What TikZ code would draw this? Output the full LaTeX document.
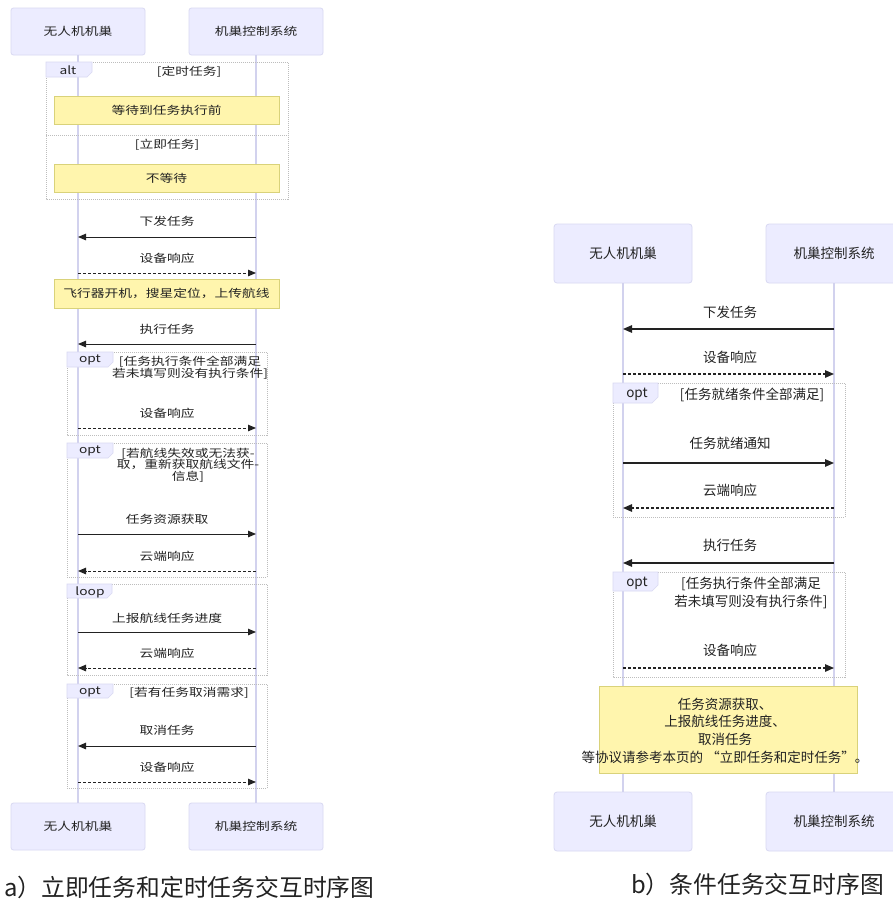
\documentclass[tikz,border=0pt]{standalone}
\usepackage{fontspec}
\setmainfont{Noto Sans CJK SC}
\newfontfamily\wideCJK{Noto Sans CJK SC}[FakeStretch=1.25]
\usetikzlibrary{arrows.meta}
\definecolor{actfill}{HTML}{ECECFF}
\definecolor{actline}{HTML}{D9D9F2}
\definecolor{lifecol}{HTML}{D2D2EE}
\definecolor{notefill}{HTML}{FFF5AD}
\definecolor{noteline}{HTML}{D9D27A}
\definecolor{framecol}{HTML}{BDBDBD}
\definecolor{txtcol}{HTML}{222222}
\tikzset{
  actorL/.style={draw=actline, fill=actfill, rounded corners=2.5pt, line width=0.8pt,
     minimum width=134pt, minimum height=47pt, inner sep=0pt, text=txtcol,
     font=\wideCJK\fontsize{11}{13}\selectfont},
  actorR/.style={draw=actline, fill=actfill, rounded corners=3pt, line width=0.8pt,
     minimum width=138pt, minimum height=59pt, inner sep=0pt, text=txtcol,
     font=\fontsize{13.5}{16}\selectfont},
  lifeline/.style={draw=lifecol, line width=1.2pt},
  noteL/.style={draw=noteline, fill=notefill, line width=0.8pt, minimum width=225pt,
     minimum height=28pt, inner sep=0pt, text=txtcol, font=\wideCJK\fontsize{11}{13}\selectfont},
  noteRbox/.style={draw=noteline, fill=notefill, line width=0.8pt, minimum width=258pt,
     minimum height=87pt, inner sep=0pt},
  noteRtext/.style={text=txtcol, align=center, inner sep=0pt,
     font=\fontsize{13.5}{17.7}\selectfont},
  fragbox/.style={draw=framecol, line width=0.7pt, dash pattern=on 1pt off 1pt},
  fragtab/.style={fill=actfill, draw=actline, line width=0.6pt},
  labL/.style={text=txtcol, font=\wideCJK\fontsize{11}{11.5}\selectfont, inner sep=0pt, align=center},
  labR/.style={text=txtcol, font=\fontsize{13.5}{18}\selectfont, inner sep=0pt, align=center},
  msgL/.style={draw=txtcol, line width=1pt, -{Triangle[length=8pt,width=6.5pt]}},
  msgR/.style={draw=txtcol, line width=1.3pt, -{Triangle[length=9pt,width=7.5pt]}},
  reply/.style={dash pattern=on 3pt off 2pt},
  caption/.style={text=txtcol, font=\fontsize{23.8}{27}\selectfont, inner sep=0pt, anchor=west},
}
\begin{document}
\begin{tikzpicture}[x=1pt,y=-1pt]
\path[use as bounding box] (0,0) rectangle (893,902);
\clip (0,0) rectangle (893,902);
\fill[white] (0,0) rectangle (893,902);

%================ LEFT DIAGRAM =================
\node[actorL] (A1) at (78,31.5) {无人机机巢};
\node[actorL] (B1) at (256,31.5) {机巢控制系统};
\node[actorL] (A2) at (78,826.5) {无人机机巢};
\node[actorL] (B2) at (256,826.5) {机巢控制系统};
\draw[lifeline] (A1.south) -- (A2.north);
\draw[lifeline] (B1.south) -- (B2.north);

% alt fragment
\draw[fragbox] (46,62) rectangle (288,199);
\draw[fragtab] (46,62) -- (92,62) -- (92,72) -- (87,77) -- (46,77) -- cycle;
\node[labL] (altk) at (68,70) {alt};
\node[labL] (altc1) at (189,72) {[定时任务]};
\draw[fragbox] (46,135) -- (288,135);
\node[labL] (altc2) at (167,145) {[立即任务]};
\node[noteL] (n1) at (166.5,110) {等待到任务执行前};
\node[noteL] (n2) at (166.5,178) {不等待};

% messages
\coordinate (l1a) at (78,237); \coordinate (r1a) at (256,237);
\node[labL] (t1) at (167,221) {下发任务};
\draw[msgL] (r1a) -- (l1a);
\coordinate (l2a) at (78,273); \coordinate (r2a) at (256,273);
\node[labL] (t2) at (167,258) {设备响应};
\draw[msgL,reply] (l2a) -- (r2a);
\node[noteL, minimum height=29pt] (n3) at (166.5,293.5) {飞行器开机，搜星定位，上传航线};
\coordinate (l3a) at (78,344); \coordinate (r3a) at (256,344);
\node[labL] (t3) at (167,329) {执行任务};
\draw[msgL] (r3a) -- (l3a);

% opt 1
\draw[fragbox] (67,352) rectangle (267,435);
\draw[fragtab] (67,352) -- (113,352) -- (113,362) -- (108,367) -- (67,367) -- cycle;
\node[labL] (o1k) at (90,360) {opt};
\node[labL] (o1c) at (190,367.5) {[任务执行条件全部满足\\若未填写则没有执行条件]};
\coordinate (l4a) at (78,428); \coordinate (r4a) at (256,428);
\node[labL] (t4) at (167,413) {设备响应};
\draw[msgL,reply] (l4a) -- (r4a);

% opt 2
\draw[fragbox] (67,443) rectangle (267,577);
\draw[fragtab] (67,443) -- (113,443) -- (113,453) -- (108,458) -- (67,458) -- cycle;
\node[labL] (o2k) at (90,451) {opt};
\node[labL] (o2c) at (188,465) {[若航线失效或无法获-\\取，重新获取航线文件-\\信息]};
\coordinate (l5a) at (78,534); \coordinate (r5a) at (256,534);
\node[labL] (t5) at (167,519) {任务资源获取};
\draw[msgL] (l5a) -- (r5a);
\coordinate (l6a) at (78,571); \coordinate (r6a) at (256,571);
\node[labL] (t6) at (167,556) {云端响应};
\draw[msgL,reply] (r6a) -- (l6a);

% loop
\draw[fragbox] (67,584) rectangle (267,675);
\draw[fragtab] (67,584) -- (112,584) -- (112,593) -- (107,598) -- (67,598) -- cycle;
\node[labL] (lpk) at (90,592) {loop};
\coordinate (l7a) at (78,632); \coordinate (r7a) at (256,632);
\node[labL] (t7) at (167,618) {上报航线任务进度};
\draw[msgL] (l7a) -- (r7a);
\coordinate (l8a) at (78,668); \coordinate (r8a) at (256,668);
\node[labL] (t8) at (167,653) {云端响应};
\draw[msgL,reply] (r8a) -- (l8a);

% opt 3
\draw[fragbox] (67,684) rectangle (267,788);
\draw[fragtab] (67,684) -- (113,684) -- (113,693) -- (108,698) -- (67,698) -- cycle;
\node[labL] (o3k) at (90,692) {opt};
\node[labL] (o3c) at (189,693) {[若有任务取消需求]};
\coordinate (l9a) at (78,746); \coordinate (r9a) at (256,746);
\node[labL] (t9) at (167,730) {取消任务};
\draw[msgL] (r9a) -- (l9a);
\coordinate (l10a) at (78,782); \coordinate (r10a) at (256,782);
\node[labL] (t10) at (167,767) {设备响应};
\draw[msgL,reply] (l10a) -- (r10a);

\node[caption] (capa) at (4,887) {a）立即任务和定时任务交互时序图};

%================ RIGHT DIAGRAM =================
\node[actorR] (C1) at (623,253.5) {无人机机巢};
\node[actorR, minimum width=136pt] (D1) at (834,253.5) {机巢控制系统};
\node[actorR] (C2) at (623,821.5) {无人机机巢};
\node[actorR, minimum width=136pt] (D2) at (834,821.5) {机巢控制系统};
\draw[lifeline] (C1.south) -- (C2.north);
\draw[lifeline] (D1.south) -- (D2.north);

\coordinate (cl1) at (623,329); \coordinate (dr1) at (834,329);
\node[labR] (u1) at (730,312) {下发任务};
\draw[msgR] (dr1) -- (cl1);
\coordinate (cl2) at (623,374); \coordinate (dr2) at (834,374);
\node[labR] (u2) at (730,357) {设备响应};
\draw[msgR,reply] (cl2) -- (dr2);

% opt R1
\draw[fragbox] (613,383) rectangle (845,517);
\draw[fragtab] (613,383) -- (658,383) -- (658,397) -- (652,403) -- (613,403) -- cycle;
\node[labR] (p1k) at (637,394) {opt};
\node[labR] (p1c) at (752,395) {[任务就绪条件全部满足]};
\coordinate (cl3) at (623,463); \coordinate (dr3) at (834,463);
\node[labR] (u3) at (730,443) {任务就绪通知};
\draw[msgR] (cl3) -- (dr3);
\coordinate (cl4) at (623,508); \coordinate (dr4) at (834,508);
\node[labR] (u4) at (730,490) {云端响应};
\draw[msgR,reply] (dr4) -- (cl4);

\coordinate (cl5) at (623,563); \coordinate (dr5) at (834,563);
\node[labR] (u5) at (730,545) {执行任务};
\draw[msgR] (dr5) -- (cl5);

% opt R2
\draw[fragbox] (613,572) rectangle (845,677);
\draw[fragtab] (613,572) -- (658,572) -- (658,585) -- (652,591) -- (613,591) -- cycle;
\node[labR] (p2k) at (637,583) {opt};
\node[labR] (p2c) at (751,593) {[任务执行条件全部满足\\若未填写则没有执行条件]};
\coordinate (cl6) at (623,668); \coordinate (dr6) at (834,668);
\node[labR] (u6) at (730,650) {设备响应};
\draw[msgR,reply] (cl6) -- (dr6);

\node[noteRbox] (nr) at (728,729.5) {};
\node[noteRtext] (nrt) at (725,730.5) {任务资源获取、\\上报航线任务进度、\\取消任务\\等协议请参考本页的 “立即任务和定时任务”。};

\node[caption] (capb) at (631,884) {b）条件任务交互时序图};
\end{tikzpicture}
\end{document}
